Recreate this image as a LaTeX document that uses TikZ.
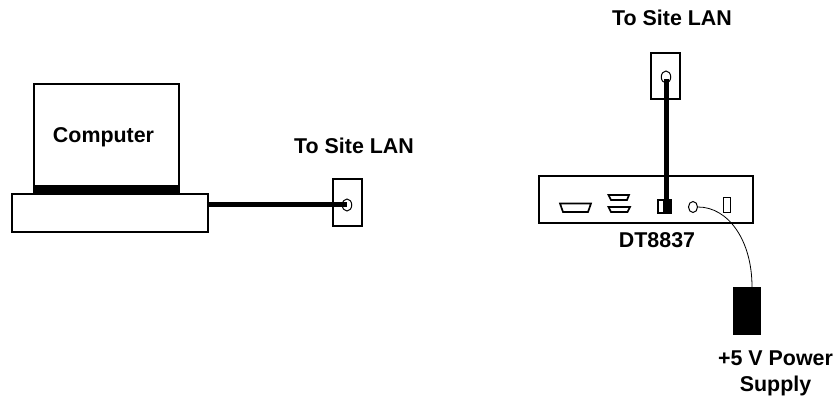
\documentclass[tikz,border=0pt]{standalone}
\usepackage{fontspec}
\setmainfont{Liberation Sans}
\usetikzlibrary{shapes.geometric}
\tikzset{
  outline/.style={draw=black,line width=1.9pt,fill=white,inner sep=0pt},
  thinpart/.style={draw=black,line width=1.7pt,fill=white,inner sep=0pt},
  cable/.style={draw=black,line width=5pt},
  label/.style={font=\fontsize{21.4}{26}\selectfont\bfseries,inner sep=0pt,align=center},
  jack/.style={draw=black,line width=1pt,ellipse,minimum width=9.5pt,minimum height=12pt,inner sep=0pt},
}
\begin{document}
\begin{tikzpicture}[x=1pt,y=-1pt]
\useasboundingbox (0,0) rectangle (835,398);
% computer
\node[outline,anchor=north west,minimum width=145pt,minimum height=109pt] (monitor) at (33,83) {};
\fill[black] (33,185) rectangle (178,193);
\node[outline,anchor=north west,minimum width=196pt,minimum height=38pt] (base) at (11,193) {};
\node[label] (comp) at (103.5,137) {Computer};
% left plate
\node[outline,minimum width=29pt,minimum height=47pt] (plateL) at (347.5,202.5) {};
\node[jack] (jackL) at (347,205) {};
\draw[cable] ([xshift=-2pt]base.east |- jackL.center) -- (jackL.center);
\node[label] (lanL) at (354,146) {To Site LAN};
% right plate
\node[outline,minimum width=29pt,minimum height=46pt] (plateR) at (665.5,76) {};
\node[jack] (jackR) at (666,77) {};
\node[label] (lanR) at (672,18) {To Site LAN};
% DT8837
\node[outline,minimum width=214pt,minimum height=47pt] (dt) at (646,199.5) {};
\node[label] (dtl) at (657,240) {DT8837};
\draw[thinpart] (560,203.5) -- (591,203.5) -- (588,212) -- (563,212) -- cycle;
\draw[thinpart] (608.5,195) -- (629,195) -- (627,200) -- (611,200) -- cycle;
\draw[thinpart] (608.5,207) -- (630,207) -- (627.5,212) -- (611,212) -- cycle;
\node[thinpart,minimum width=13pt,minimum height=12.5pt] (port) at (664.5,206.5) {};
\fill[black] (663,200.5) rectangle (671,212.5);
\draw[cable] ([yshift=-2pt]jackR.center) -- (port.south -| jackR.center);
\node[jack,minimum width=9pt,minimum height=11pt] (jackP) at (693,207) {};
\node[thinpart,minimum width=7pt,minimum height=15pt] (slot) at (727,205) {};
% supply
\node[fill=black,minimum width=28pt,minimum height=48pt,inner sep=0pt] (psu) at (747,311) {};
\draw[line width=0.8pt] (jackP.east) .. controls (728,207) and (752,240) .. (psu.north -| 752,0);
\node[label] (psl) at (775.5,373) {+5 V Power\\Supply};
\end{tikzpicture}
\end{document}
